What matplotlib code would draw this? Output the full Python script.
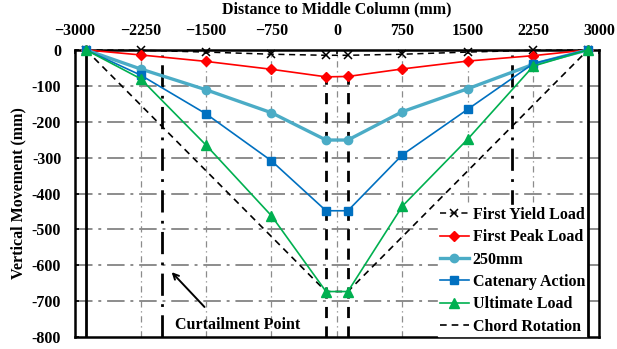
import matplotlib.pyplot as plt
from matplotlib.ticker import FuncFormatter

plt.rcParams['font.family'] = ['Liberation Serif', 'DejaVu Serif']
plt.rcParams['font.weight'] = 'bold'

# node positions along the beam (mm from middle column)
dist = [-2875, -2250, -1500, -750, -125, 125, 750, 1500, 2250, 2875]

first_yield = [0, -1, -6, -12, -15, -15, -12, -6, -1, 0]
first_peak = [0, -14, -32, -54, -75, -74, -53, -31, -16, 0]
disp_250 = [0, -53, -111, -175, -251, -251, -172, -108, -40, 0]
catenary = [0, -70, -178, -309, -448, -448, -292, -165, -38, 0]
ultimate = [0, -80, -265, -462, -673, -673, -435, -248, -45, 0]

chord_x = [-2875, -125, 125, 2875]
chord_y = [0, -673, -673, 0]

x_ticks = [-3000, -2250, -1500, -750, 0, 750, 1500, 2250, 3000]
y_ticks = [0, -100, -200, -300, -400, -500, -600, -700, -800]
curtail_x = [-2000, 2000]
column_x = [-2875, 2875]
mid_col_x = [-125, 125]

fig = plt.figure(figsize=(6.17, 3.49), dpi=100)
ax = fig.add_axes([0.1216, 0.034, 0.849, 0.823])

ax.set_xlim(-3000, 3000)
ax.set_ylim(-800, 0)

# grid
for y in y_ticks[1:-1]:
    ax.axhline(y, color='#8c8c8c', lw=1.4, ls=(0, (9, 3, 1.5, 3)), zorder=0)
for x in x_ticks[1:-1]:
    ax.axvline(x, color='#8c8c8c', lw=0.9, ls=(0, (5, 3, 1, 3)), zorder=0)

# columns and curtailment lines
for x in column_x:
    ax.axvline(x, color='black', lw=2, zorder=6)
for x in curtail_x:
    ax.plot([x, x], [-800, -15], color='black', lw=2, ls=(0, (8, 3, 1, 3)), zorder=1)
for x in mid_col_x:
    ax.plot([x, x], [-800, -60], color='black', lw=2, ls=(0, (4, 3)), zorder=1)

ax.plot(dist, first_yield, color='black', lw=1.1, ls=(0, (4, 3)), marker='x',
        ms=6, mew=1.1, label='First Yield Load', zorder=3, clip_on=False)
ax.plot(dist, first_peak, color='#ff0000', lw=1.2, marker='D', ms=5,
        label='First Peak Load', zorder=7, clip_on=False)
ax.plot(dist, disp_250, color='#4bacc6', lw=2.4, marker='o', ms=6,
        label='250mm', zorder=7, clip_on=False)
ax.plot(dist, catenary, color='#0070c0', lw=1.2, marker='s', ms=6,
        label='Catenary Action', zorder=7, clip_on=False)
ax.plot(dist, ultimate, color='#00b050', lw=1.2, marker='^', ms=7,
        label='Ultimate Load', zorder=7, clip_on=False)
ax.plot(chord_x, chord_y, color='black', lw=1.2, ls=(0, (4, 3)),
        label='Chord Rotation', zorder=2)

ax.xaxis.tick_top()
ax.xaxis.set_label_position('top')
ax.set_xticks(x_ticks)
ax.xaxis.set_major_formatter(FuncFormatter(lambda v, p: f'{int(v)}'.replace('-', '\u2212')))
ax.set_yticks(y_ticks)
ax.set_yticklabels([str(v) for v in y_ticks])
ax.tick_params(axis='both', labelsize=11.5, length=3, width=1.2, direction='in')
ax.tick_params(axis='x', pad=8)
ax.tick_params(axis='y', pad=10)
ax.set_xlabel('Distance to Middle Column (mm)', fontsize=11.5, fontweight='bold', labelpad=7)
ax.set_ylabel('Vertical Movement (mm)', fontsize=11.5, fontweight='bold', labelpad=4)

for s in ax.spines.values():
    s.set_linewidth(1.8)

ax.annotate('', xy=(-1893, -619), xytext=(-1517, -716),
            arrowprops=dict(arrowstyle='->', color='black', lw=1.4, shrinkA=0, shrinkB=0))
ax.text(-1850, -765, 'Curtailment Point', fontsize=11.5, fontweight='bold', va='center')

leg = ax.legend(loc='lower right', bbox_to_anchor=(0.978, 0.0), fontsize=11.5,
                frameon=True, fancybox=False, framealpha=1, edgecolor='white',
                handlelength=1.8, handletextpad=0.25, labelspacing=0.4,
                borderpad=0.1, borderaxespad=0.05)
leg.set_zorder(5)

fig.savefig('out.png', dpi=100)
